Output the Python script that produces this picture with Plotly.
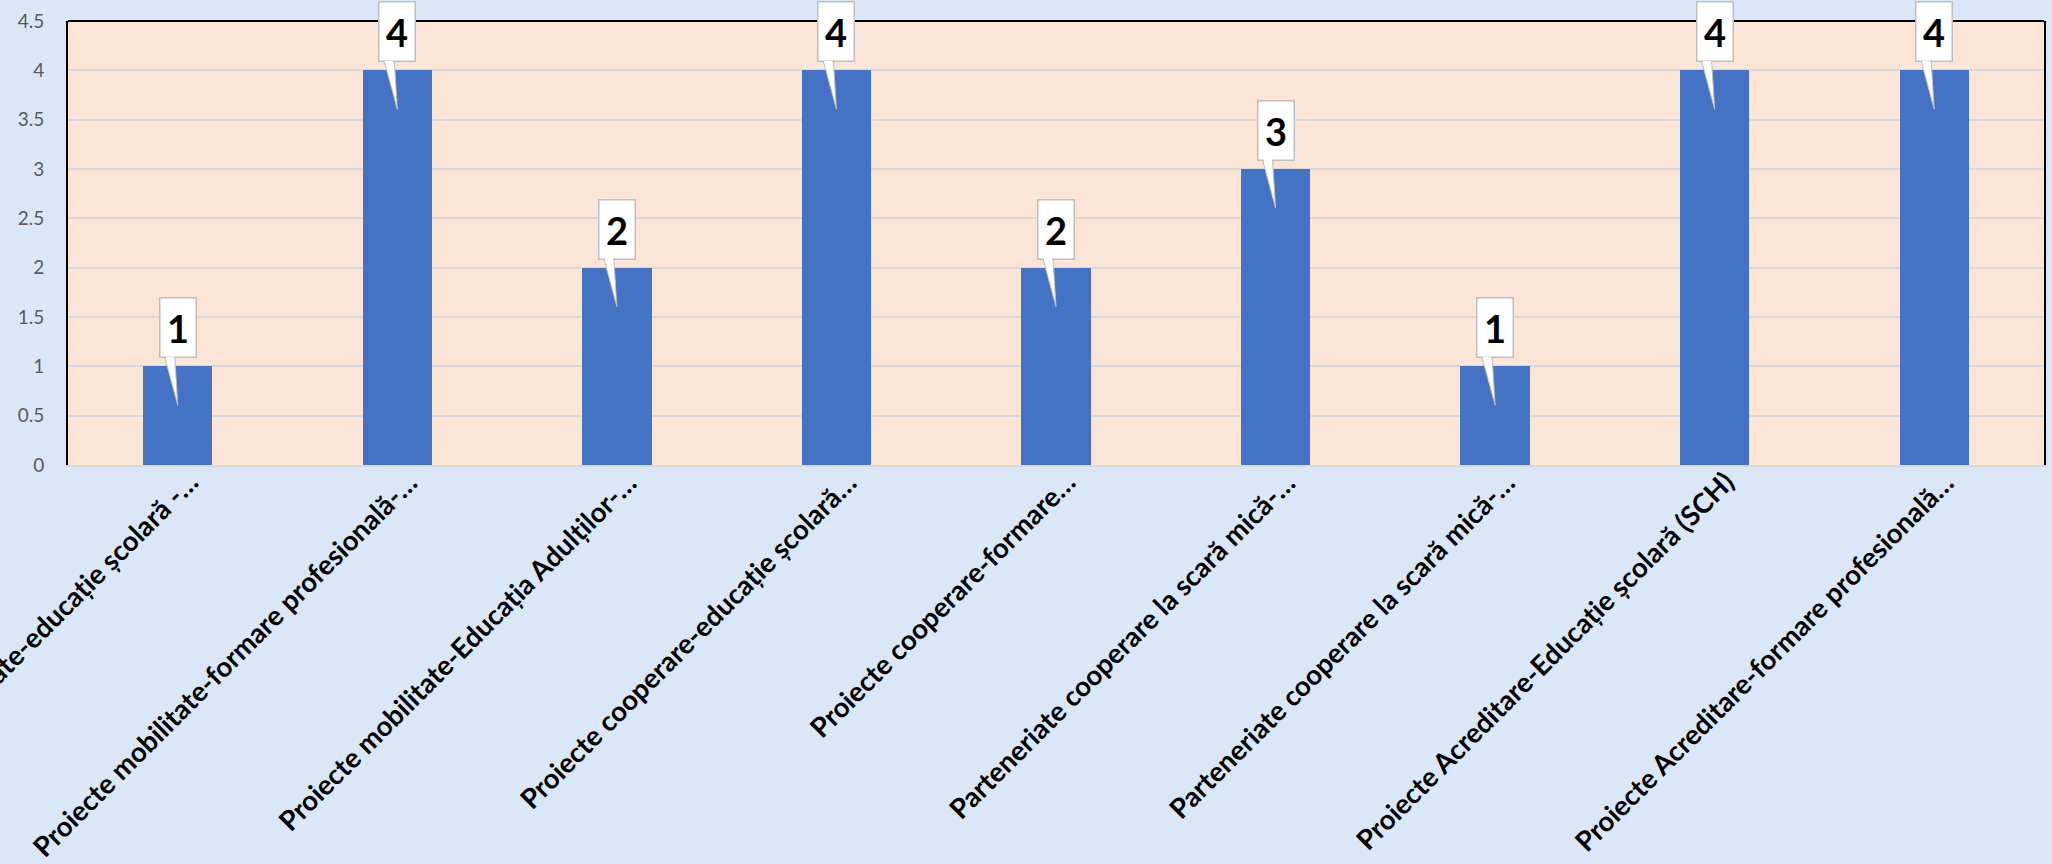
import plotly.graph_objects as go

categories = [
    "Proiecte mobilitate-educație școlară -…",
    "Proiecte mobilitate-formare profesională-…",
    "Proiecte mobilitate-Educația Adulților-…",
    "Proiecte cooperare-educație școlară…",
    "Proiecte cooperare-formare…",
    "Parteneriate cooperare la scară mică-…",
    "Parteneriate cooperare la scară mică-…",
    "Proiecte Acreditare-Educație școlară (SCH)",
    "Proiecte Acreditare-formare profesională…",
]
values = [1, 4, 2, 4, 2, 3, 1, 4, 4]
y_tick_values = [0, 0.5, 1, 1.5, 2, 2.5, 3, 3.5, 4, 4.5]
y_tick_labels = ["0", "0.5", "1", "1.5", "2", "2.5", "3", "3.5", "4", "4.5"]

positions = list(range(len(categories)))

BAR_COLOR = "#4472C4"
PLOT_BG = "#FBE5D6"
PAPER_BG = "#D9E7F6"
GRID = "#D9D9D9"
CALLOUT_BORDER = "#BFBFBF"
FONT = "Lato"

fig = go.Figure(
    go.Bar(
        x=positions,
        y=values,
        width=0.316,
        marker=dict(color=BAR_COLOR, line=dict(width=0)),
        hoverinfo="skip",
    )
)

shapes = []
annotations = []
for i, v in zip(positions, values):
    # callout pointer (wedge) anchored at the bar top
    shapes.append(dict(
        type="path", xref="x", yref="y",
        xsizemode="pixel", ysizemode="pixel", xanchor=i, yanchor=v,
        path="M -13 9 L 0 -39 L -3 9 Z",
        fillcolor="white", line=dict(color=CALLOUT_BORDER, width=1),
        layer="above",
    ))
    # callout box with the value
    annotations.append(dict(
        x=i, y=v, xref="x", yref="y", yanchor="bottom", xanchor="center",
        yshift=8, showarrow=False, text=f"<b>{v}</b>",
        font=dict(family=FONT, size=38, color="black"),
        bgcolor="white", bordercolor=CALLOUT_BORDER, borderwidth=1.5, borderpad=0.5,
        width=34, height=57,
    ))
    # hide the box border where the pointer joins the box
    annotations.append(dict(
        x=i, y=v, xref="x", yref="y", yanchor="middle", xanchor="center",
        xshift=-8, yshift=8.8, showarrow=False, text=" ",
        font=dict(size=1), bgcolor="white", borderwidth=0, borderpad=0,
        width=8, height=2,
    ))

# rotated category labels under the axis
for i, label in zip(positions, categories):
    annotations.append(dict(
        x=i, y=0, xref="x", yref="y", xanchor="right", yanchor="top",
        xshift=27, yshift=1, showarrow=False, textangle=-45,
        text=f"<b>{label}</b>",
        font=dict(family=FONT, size=27.5, color="black"),
        borderpad=0,
    ))

# top border of plot area
shapes.append(dict(type="line", xref="paper", yref="paper", x0=0, x1=1, y0=1, y1=1,
                   line=dict(color="black", width=2), layer="above"))

fig.update_layout(
    width=2052, height=864,
    margin=dict(l=68, r=8, t=21, b=399),
    paper_bgcolor=PAPER_BG,
    plot_bgcolor=PLOT_BG,
    showlegend=False,
    shapes=shapes,
    annotations=annotations,
    bargap=0,
)

fig.update_xaxes(
    range=[-0.5, len(categories) - 0.5],
    tickmode="array", tickvals=positions, showticklabels=False,
    ticks="",
    showgrid=False, zeroline=False,
    showline=True, linecolor=GRID, linewidth=2,
    automargin=False,
)
fig.update_yaxes(
    range=[0, 4.5],
    tickmode="array", tickvals=y_tick_values, ticktext=y_tick_labels,
    ticks="", ticklabelstandoff=18,
    tickfont=dict(family=FONT, size=19, color="#595959"),
    showgrid=True, gridcolor=GRID, gridwidth=1.5,
    zeroline=False,
    showline=True, linecolor="black", linewidth=2, mirror=True,
    automargin=False,
)

fig.write_html(
    "out.html",
    config={"displayModeBar": False},
    post_script="document.body.style.margin='0';document.body.style.overflow='hidden';",
)
